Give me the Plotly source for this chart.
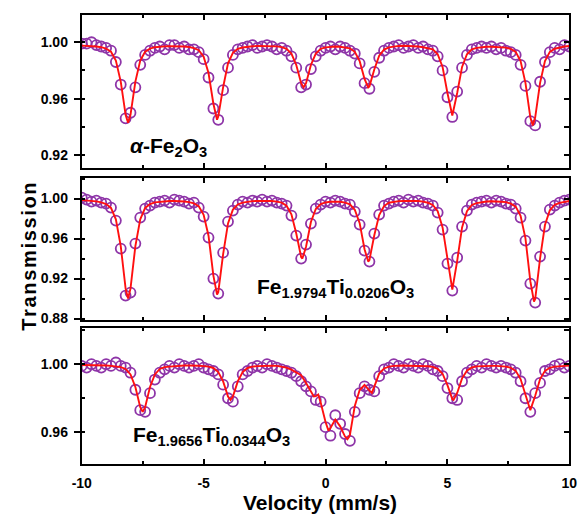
import numpy as np
import plotly.graph_objects as go

# velocity channels (mm/s)
VELOCITY = np.round(np.linspace(-10, 10, 101), 1)

# ---- alpha-Fe2O3 (top) ----
TOP_DATA = [0.999, 0.999, 1.000, 0.998, 0.997, 0.996, 0.994, 0.986, 0.970, 0.946,
            0.950, 0.968, 0.984, 0.991, 0.994, 0.996, 0.997, 0.995, 0.998, 0.998,
            0.996, 0.997, 0.995, 0.995, 0.993, 0.988, 0.975, 0.953, 0.945, 0.966,
            0.982, 0.991, 0.995, 0.996, 0.997, 0.998, 0.996, 0.997, 0.998, 0.997,
            0.995, 0.996, 0.994, 0.990, 0.982, 0.968, 0.970, 0.981, 0.990, 0.994,
            0.996, 0.997, 0.995, 0.997, 0.996, 0.994, 0.992, 0.985, 0.971, 0.967,
            0.979, 0.989, 0.994, 0.996, 0.997, 0.998, 0.996, 0.997, 0.998, 0.996,
            0.997, 0.995, 0.994, 0.990, 0.980, 0.961, 0.947, 0.965, 0.982, 0.991,
            0.995, 0.996, 0.997, 0.996, 0.997, 0.995, 0.996, 0.994, 0.993, 0.991,
            0.984, 0.969, 0.944, 0.941, 0.972, 0.986, 0.993, 0.996, 0.995, 0.998,
            0.997]
TOP_FIT = [0.9976, 0.9975, 0.9973, 0.9970, 0.9965, 0.9955, 0.9933, 0.9870, 0.9721, 0.9485,
           0.9485, 0.9721, 0.9870, 0.9933, 0.9955, 0.9965, 0.9970, 0.9971, 0.9972, 0.9972,
           0.9972, 0.9970, 0.9966, 0.9958, 0.9944, 0.9897, 0.9782, 0.9564, 0.9473, 0.9681,
           0.9850, 0.9925, 0.9953, 0.9963, 0.9970, 0.9972, 0.9973, 0.9973, 0.9973, 0.9972,
           0.9971, 0.9966, 0.9954, 0.9920, 0.9839, 0.9710, 0.9710, 0.9839, 0.9920, 0.9954,
           0.9964, 0.9969, 0.9970, 0.9968, 0.9965, 0.9957, 0.9932, 0.9866, 0.9740, 0.9687,
           0.9807, 0.9905, 0.9948, 0.9964, 0.9970, 0.9974, 0.9975, 0.9974, 0.9972, 0.9970,
           0.9965, 0.9960, 0.9950, 0.9915, 0.9825, 0.9640, 0.9480, 0.9640, 0.9825, 0.9915,
           0.9950, 0.9960, 0.9965, 0.9968, 0.9968, 0.9967, 0.9965, 0.9962, 0.9953, 0.9932,
           0.9866, 0.9712, 0.9467, 0.9467, 0.9712, 0.9866, 0.9932, 0.9954, 0.9964, 0.9970,
           0.9973]
TOP_DIP_V = [-8.1, -4.45, -0.9, 1.75, 5.2, 8.5]
TOP_DIP_T = [0.943, 0.945, 0.968, 0.968, 0.948, 0.941]

# ---- Fe1.9794Ti0.0206O3 (middle) ----
MID_DATA = [1.001, 0.999, 0.997, 0.998, 0.996, 0.995, 0.991, 0.978, 0.950, 0.903,
            0.906, 0.955, 0.981, 0.990, 0.993, 0.996, 0.997, 0.998, 0.996, 0.999,
            0.998, 0.997, 0.995, 0.996, 0.991, 0.982, 0.961, 0.920, 0.905, 0.946,
            0.977, 0.988, 0.994, 0.997, 0.996, 0.998, 0.997, 0.999, 0.997, 0.998,
            0.996, 0.995, 0.993, 0.983, 0.963, 0.940, 0.954, 0.975, 0.990, 0.994,
            0.997, 0.996, 0.998, 0.997, 0.995, 0.994, 0.987, 0.974, 0.948, 0.937,
            0.965, 0.984, 0.993, 0.995, 0.997, 0.998, 0.996, 0.999, 0.997, 0.998,
            0.996, 0.995, 0.993, 0.986, 0.969, 0.935, 0.908, 0.941, 0.972, 0.988,
            0.994, 0.996, 0.997, 0.998, 0.996, 0.998, 0.997, 0.995, 0.994, 0.990,
            0.981, 0.958, 0.915, 0.896, 0.942, 0.972, 0.989, 0.993, 0.996, 0.998,
            0.999]
MID_FIT = [0.9984, 0.9982, 0.9978, 0.9972, 0.9962, 0.9945, 0.9906, 0.9792, 0.9525, 0.9099,
           0.9099, 0.9525, 0.9792, 0.9906, 0.9945, 0.9962, 0.9969, 0.9974, 0.9976, 0.9976,
           0.9976, 0.9971, 0.9964, 0.9952, 0.9923, 0.9838, 0.9629, 0.9230, 0.9064, 0.9444,
           0.9752, 0.9890, 0.9941, 0.9960, 0.9970, 0.9974, 0.9977, 0.9978, 0.9977, 0.9975,
           0.9969, 0.9959, 0.9928, 0.9842, 0.9651, 0.9415, 0.9518, 0.9766, 0.9896, 0.9945,
           0.9961, 0.9968, 0.9969, 0.9968, 0.9960, 0.9943, 0.9888, 0.9754, 0.9494, 0.9385,
           0.9633, 0.9835, 0.9925, 0.9958, 0.9967, 0.9974, 0.9976, 0.9978, 0.9977, 0.9976,
           0.9970, 0.9958, 0.9936, 0.9873, 0.9711, 0.9378, 0.9090, 0.9378, 0.9711, 0.9873,
           0.9936, 0.9955, 0.9966, 0.9970, 0.9973, 0.9973, 0.9968, 0.9964, 0.9949, 0.9919,
           0.9827, 0.9602, 0.9174, 0.8995, 0.9403, 0.9735, 0.9883, 0.9937, 0.9957, 0.9970,
           0.9976]
MID_DIP_V = [-8.1, -4.45, -0.95, 1.75, 5.2, 8.55]
MID_DIP_T = [0.900, 0.904, 0.940, 0.937, 0.909, 0.897]

# ---- Fe1.9656Ti0.0344O3 (bottom) ----
BOT_DATA = [0.999, 0.998, 1.000, 0.999, 0.998, 1.000, 0.999, 1.001, 0.999, 0.998,
            0.995, 0.985, 0.973, 0.972, 0.983, 0.991, 0.995, 0.997, 0.999, 0.998,
            1.000, 0.999, 0.998, 0.999, 1.000, 0.998, 0.997, 0.996, 0.994, 0.988,
            0.980, 0.978, 0.987, 0.994, 0.996, 0.998, 0.999, 0.998, 1.000, 0.999,
            0.998, 0.997, 0.996, 0.995, 0.993, 0.990, 0.987, 0.984, 0.979, 0.978,
            0.963, 0.958, 0.970, 0.965, 0.959, 0.955, 0.972, 0.983, 0.987, 0.985,
            0.984, 0.993, 0.997, 0.998, 1.000, 0.999, 0.998, 1.000, 0.999, 0.998,
            1.000, 0.999, 0.997, 0.996, 0.993, 0.986, 0.980, 0.979, 0.990, 0.995,
            0.997, 0.999, 0.998, 1.000, 0.999, 0.998, 0.999, 0.998, 0.997, 0.995,
            0.990, 0.980, 0.972, 0.983, 0.989, 0.996, 0.997, 0.999, 1.000, 0.998,
            0.999]
BOT_FIT = [0.9995, 0.9995, 0.9993, 0.9993, 0.9993, 0.9992, 0.9990, 0.9987, 0.9983, 0.9972,
           0.9940, 0.9866, 0.9747, 0.9747, 0.9866, 0.9940, 0.9972, 0.9983, 0.9986, 0.9989,
           0.9991, 0.9992, 0.9992, 0.9993, 0.9991, 0.9989, 0.9986, 0.9978, 0.9954, 0.9899,
           0.9810, 0.9810, 0.9899, 0.9954, 0.9978, 0.9986, 0.9989, 0.9991, 0.9992, 0.9991,
           0.9990, 0.9985, 0.9980, 0.9968, 0.9950, 0.9935, 0.9890, 0.9845, 0.9812, 0.9775,
           0.9660, 0.9625, 0.9675, 0.9635, 0.9575, 0.9585, 0.9755, 0.9848, 0.9878, 0.9845,
           0.9868, 0.9945, 0.9975, 0.9986, 0.9990, 0.9992, 0.9992, 0.9991, 0.9991, 0.9992,
           0.9991, 0.9988, 0.9984, 0.9973, 0.9944, 0.9877, 0.9795, 0.9831, 0.9917, 0.9962,
           0.9981, 0.9987, 0.9989, 0.9989, 0.9990, 0.9990, 0.9989, 0.9986, 0.9979, 0.9961,
           0.9913, 0.9815, 0.9730, 0.9815, 0.9913, 0.9961, 0.9979, 0.9986, 0.9989, 0.9991,
           0.9992]
BOT_DIP_V = [-7.5, -3.9, -0.48, -0.3, 0.12, 0.9, 1.9, 5.25, 8.4]
BOT_DIP_T = [0.972, 0.979, 0.981, 0.9822, 0.961, 0.956, 0.9832, 0.979, 0.973]

LABELS = ["<i>α</i>-Fe<sub>2</sub>O<sub>3</sub>",
          "Fe<sub>1.9794</sub>Ti<sub>0.0206</sub>O<sub>3</sub>",
          "Fe<sub>1.9656</sub>Ti<sub>0.0344</sub>O<sub>3</sub>"]
Y_TITLE = "Transmission"
X_TITLE = "Velocity (mm/s)"
Y_TICKS = [[0.92, 0.96, 1.00], [0.88, 0.92, 0.96, 1.00], [0.96, 1.00]]
X_TICKS = [-10, -5, 0, 5, 10]

W, H = 588, 515
FONT = "Liberation Sans, Arial, sans-serif"
PURPLE = "#8E35A8"
RED = "#FF1010"

X_DOM = [74 / W, 577 / W]
Y_DOMS = [[1 - 170 / H, 1 - 15.7 / H], [1 - 324 / H, 1 - 180 / H], [1 - 470 / H, 1 - 333 / H]]
Y_RANGES = [[0.911, 1.019], [0.879, 1.021], [0.9416, 1.021]]
LABEL_POS = [(122, 149), (253, 292), (125, 442)]


def merged(fit, dv, dt):
    pts = sorted(list(zip(VELOCITY.tolist(), fit)) + list(zip(dv, dt)))
    return [p[0] for p in pts], [p[1] for p in pts]


panels = [(TOP_DATA, TOP_FIT, TOP_DIP_V, TOP_DIP_T),
          (MID_DATA, MID_FIT, MID_DIP_V, MID_DIP_T),
          (BOT_DATA, BOT_FIT, BOT_DIP_V, BOT_DIP_T)]

fig = go.Figure()
for i, (data, fit, dv, dt) in enumerate(panels):
    n = i + 1
    xa = "x" if n == 1 else f"x{n}"
    ya = "y" if n == 1 else f"y{n}"
    fig.add_trace(go.Scatter(x=VELOCITY, y=data, mode="markers", xaxis=xa, yaxis=ya,
                             marker=dict(symbol="circle-open", size=10, color=PURPLE,
                                         line=dict(width=1.8, color=PURPLE)),
                             showlegend=False, hoverinfo="skip"))
    fx, fy = merged(fit, dv, dt)
    fig.add_trace(go.Scatter(x=fx, y=fy, mode="lines", xaxis=xa, yaxis=ya,
                             line=dict(color=RED, width=1.9), showlegend=False,
                             hoverinfo="skip"))
    # right-side axis holder
    fig.add_trace(go.Scatter(x=[None], y=[None], xaxis=xa, yaxis=f"y{n + 3}",
                             showlegend=False, hoverinfo="skip"))

tickfont = dict(family=FONT, size=14, color="black", weight="bold")
layout = dict(width=W, height=H, autosize=False,
              margin=dict(l=0, r=0, t=0, b=0),
              paper_bgcolor="white", plot_bgcolor="white",
              font=dict(family=FONT, color="black"))

for i in range(3):
    n = i + 1
    xkey = "xaxis" if n == 1 else f"xaxis{n}"
    ykey = "yaxis" if n == 1 else f"yaxis{n}"
    ya = "y" if n == 1 else f"y{n}"
    xa = "x" if n == 1 else f"x{n}"
    layout[xkey] = dict(domain=X_DOM, anchor=ya, range=[-10, 10],
                        tickmode="array", tickvals=X_TICKS,
                        ticktext=[str(v) for v in X_TICKS],
                        ticks="inside", ticklen=5, tickwidth=1.5, tickcolor="black",
                        minor=dict(dtick=2.5, tick0=0, ticks="inside", ticklen=3,
                                   tickwidth=1.5, tickcolor="black"),
                        showticklabels=(n == 3), tickfont=tickfont,
                        ticklabelstandoff=6,
                        showline=True, linewidth=2, linecolor="black", mirror="ticks",
                        showgrid=False, zeroline=False)
    layout[ykey] = dict(domain=Y_DOMS[i], anchor=xa, range=Y_RANGES[i],
                        tickmode="array", tickvals=Y_TICKS[i],
                        ticktext=[f"{v:.2f}" for v in Y_TICKS[i]],
                        ticks="outside", ticklen=6, tickwidth=1.5, tickcolor="black",
                        minor=dict(dtick=0.02, tick0=0, ticks="inside", ticklen=3,
                                   tickwidth=1.5, tickcolor="black"),
                        tickfont=tickfont, ticklabelstandoff=3,
                        showline=True, linewidth=2,
                        linecolor="black", mirror=True,
                        showgrid=False, zeroline=False)
    layout[f"yaxis{n + 3}"] = dict(overlaying=ya, anchor=xa, side="right",
                                   range=Y_RANGES[i], dtick=0.02, tick0=0,
                                   ticks="inside", ticklen=5, tickwidth=1.5,
                                   tickcolor="black", showticklabels=False,
                                   showline=False, showgrid=False, zeroline=False)

annotations = []
for lab, (px, py) in zip(LABELS, LABEL_POS):
    annotations.append(dict(text=lab, x=px / W, y=1 - py / H, xref="paper", yref="paper",
                            xanchor="left", yanchor="middle", showarrow=False,
                            font=dict(family=FONT, size=21, color="black", weight="bold")))
annotations.append(dict(text="\u200a".join(Y_TITLE), x=20 / W, y=1 - 260 / H,
                        xref="paper", yref="paper", textangle=-90, showarrow=False,
                        xanchor="center", yanchor="middle",
                        font=dict(family=FONT, size=20, color="black", weight="bold")))
annotations.append(dict(text=X_TITLE, x=320 / W, y=1 - 522 / H, xref="paper",
                        yref="paper", showarrow=False, xanchor="center", yanchor="bottom",
                        borderpad=0,
                        font=dict(family=FONT, size=21, color="black", weight="bold")))
layout["annotations"] = annotations

fig.update_layout(**layout)
fig.write_html("out.html")
